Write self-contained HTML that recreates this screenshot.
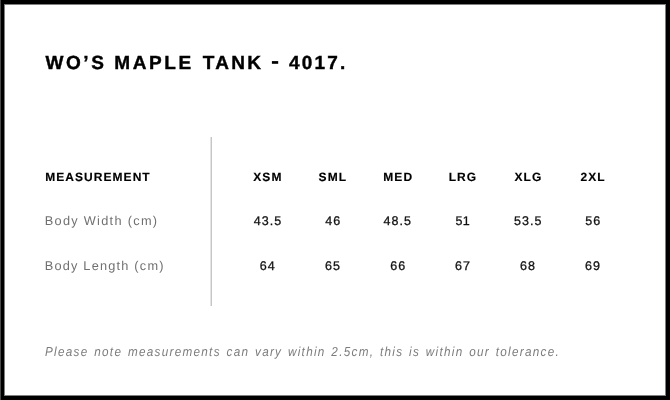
<!DOCTYPE html>
<html><head><meta charset="utf-8">
<style>
html,body{margin:0;padding:0;}
body{width:670px;height:400px;position:relative;overflow:hidden;background:#fff;font-family:"Liberation Sans",sans-serif;}
.frame{position:absolute;left:0;top:0;width:662px;height:392px;border:4px solid #000;box-shadow:inset 0 0 0 1px #808080;}
.lcol{position:absolute;left:0;top:0;width:1px;height:400px;background:#4a4a4a;}
.wrap{position:absolute;left:0;top:0;width:670px;height:400px;will-change:transform;}
.t{position:absolute;white-space:nowrap;line-height:1;text-rendering:geometricPrecision;}
.title{font-size:19px;font-weight:bold;color:#000;-webkit-text-stroke:0.4px #000;}
.vline{position:absolute;left:210px;top:137px;width:2px;height:169px;background:linear-gradient(to right,#e4e4e4 0,#e4e4e4 50%,#c6c6c6 50%,#c6c6c6 100%);}
.h{font-size:12px;font-weight:bold;color:#000;-webkit-text-stroke:0.15px #000;}
.lab{font-size:12.75px;color:#707070;}
.v{font-size:12.5px;color:#111;-webkit-text-stroke:0.3px #111;}
.note{font-size:13px;font-style:italic;color:#7c7c7c;transform:scaleX(0.9);transform-origin:0 0;}

</style></head><body>
<div class="frame"></div>
<div class="lcol"></div>
<div class="vline"></div>
<div class="wrap">
<span class="t title" style="left:45.54px;top:54.40px;letter-spacing:2.565px">WO’S</span>
<span class="t title" style="left:114.36px;top:54.40px;letter-spacing:2.561px">MAPLE</span>
<span class="t title" style="left:202.66px;top:54.40px;letter-spacing:2.307px">TANK</span>
<span class="t title" style="left:288.88px;top:54.40px;letter-spacing:2.228px">4017.</span>
<span class="t h" style="left:45.28px;top:171.00px;letter-spacing:1.043px">MEASUREMENT</span>
<span class="t h" style="left:253.20px;top:171.00px;letter-spacing:1.100px">XSM</span>
<span class="t h" style="left:318.61px;top:171.00px;letter-spacing:1.100px">SML</span>
<span class="t h" style="left:383.26px;top:171.00px;letter-spacing:1.100px">MED</span>
<span class="t h" style="left:448.66px;top:171.00px;letter-spacing:1.100px">LRG</span>
<span class="t h" style="left:514.43px;top:171.00px;letter-spacing:1.100px">XLG</span>
<span class="t h" style="left:580.43px;top:171.00px;letter-spacing:1.100px">2XL</span>
<span class="t lab" style="left:44.73px;top:215.00px;letter-spacing:1.293px">Body Width (cm)</span>
<span class="t v" style="left:253.84px;top:215.00px;letter-spacing:1.050px">43.5</span>
<span class="t v" style="left:325.22px;top:215.00px;letter-spacing:1.050px">46</span>
<span class="t v" style="left:383.60px;top:215.00px;letter-spacing:1.050px">48.5</span>
<span class="t v" style="left:455.54px;top:215.00px;letter-spacing:0.150px">51</span>
<span class="t v" style="left:513.92px;top:215.00px;letter-spacing:1.050px">53.5</span>
<span class="t v" style="left:585.28px;top:215.00px;letter-spacing:1.050px">56</span>
<span class="t lab" style="left:44.73px;top:260.00px;letter-spacing:1.209px">Body Length (cm)</span>
<span class="t v" style="left:259.84px;top:260.00px;letter-spacing:1.050px">64</span>
<span class="t v" style="left:324.99px;top:260.00px;letter-spacing:1.050px">65</span>
<span class="t v" style="left:390.15px;top:260.00px;letter-spacing:1.050px">66</span>
<span class="t v" style="left:455.09px;top:260.00px;letter-spacing:1.050px">67</span>
<span class="t v" style="left:520.12px;top:260.00px;letter-spacing:1.050px">68</span>
<span class="t v" style="left:585.07px;top:260.00px;letter-spacing:1.050px">69</span>
<span class="t note" style="left:44.74px;top:345.00px;letter-spacing:1.436px;word-spacing:1.31px">Please note measurements can vary within 2.5cm, this is within our tolerance.</span>
<svg class="hy" width="12" height="8" viewBox="0 0 12 8" style="position:absolute;left:269px;top:58px;"><rect x="2.9" y="3.1" width="6.3" height="2.7" fill="#000"/></svg>
</div>
</body></html>
